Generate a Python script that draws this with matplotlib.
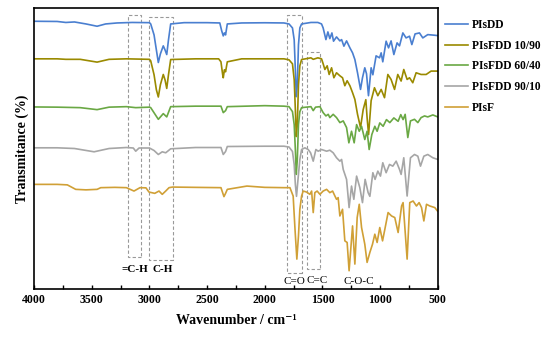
import matplotlib
matplotlib.use("Agg")
import matplotlib.pyplot as plt
from matplotlib.patches import Rectangle
from matplotlib.ticker import MultipleLocator

plt.rcParams['font.family'] = ['Liberation Serif', 'DejaVu Serif']

# FTIR spectra (wavenumber in cm-1, stacked transmittance in a.u.)
wn_pisdd = [4000, 3800, 3725, 3650, 3550, 3454, 3380, 3281, 3150, 3000, 2989, 2960, 2940, 2923, 2905,
            2880, 2865, 2850, 2835, 2816, 2700, 2500, 2390, 2374, 2360, 2350, 2340, 2325, 2200, 2000,
            1834, 1790, 1760, 1745, 1735, 1727, 1718, 1708, 1696, 1681, 1600, 1540, 1508, 1494, 1470,
            1453, 1436, 1418, 1404, 1378, 1349, 1334, 1314, 1291, 1262, 1239, 1219, 1196, 1170, 1153,
            1133, 1118, 1101, 1078, 1063, 1035, 1005, 991, 977, 948, 927, 905, 881, 853, 832, 803,
            775, 745, 725, 697, 659, 630, 587, 529, 500]
t_pisdd = [268.7, 268.5, 267.5, 268, 266, 263.7, 266, 267, 267.5, 267.3, 266, 255, 240, 227.3, 236,
           244, 240, 235.3, 250, 266, 267.3, 267.3, 267, 259.3, 254, 257, 255, 266, 267, 267.2,
           267, 266, 262, 250, 220, 193, 205, 245, 262, 266, 267.5, 267.5, 266, 262, 250.3,
           258, 251.3, 257, 248.7, 253, 249, 250.3, 243.7, 249, 242, 237, 230.3, 217, 200.3, 212,
           222, 216, 194, 222, 215, 234, 232, 237, 228, 248.7, 242, 249, 235.3, 247, 244, 257,
           252, 253.7, 245.3, 256, 257, 252, 255.3, 254.7, 254.3]

wn_1090 = [4000, 3800, 3725, 3600, 3454, 3350, 3200, 3000, 2989, 2960, 2940, 2923, 2905, 2880, 2865,
           2850, 2835, 2816, 2600, 2400, 2380, 2365, 2360, 2350, 2340, 2325, 2200, 1834, 1790, 1760,
           1745, 1735, 1727, 1718, 1708, 1696, 1681, 1600, 1580, 1540, 1508, 1494, 1479, 1459, 1442,
           1421, 1401, 1378, 1349, 1326, 1306, 1286, 1262, 1239, 1219, 1196, 1170, 1147, 1124, 1113,
           1100, 1078, 1049, 1020, 991, 962, 933, 905, 875, 847, 818, 795, 766, 745, 717, 688, 645,
           601, 558, 500]
t_1090 = [231, 231, 230.5, 230.5, 227.7, 230.5, 231, 230.5, 229, 215, 200, 192.7, 205, 215.3, 210,
          201.3, 215, 230.3, 231, 231, 228, 215, 212, 220, 218, 228, 231, 231, 230, 226,
          210, 180, 153, 165, 205, 224, 230.3, 232, 230.5, 232, 231, 226, 220.3, 224, 215.3,
          222, 212, 217, 214, 212, 204, 209, 204, 197, 190.3, 175.3, 162, 180, 190, 172,
          155, 189, 202, 194, 200.3, 192, 215.3, 210.3, 200.3, 215.3, 208.7, 220.3, 210.3, 212, 207, 217, 215.3,
          215.3, 218.7, 218.7]

wn_6040 = [4000, 3800, 3600, 3454, 3350, 3200, 3119, 3000, 2989, 2923, 2880, 2850, 2816, 2600, 2380,
           2360, 2340, 2325, 2000, 1834, 1790, 1760, 1745, 1735, 1727, 1718, 1708, 1696, 1681, 1600,
           1580, 1560, 1522, 1494, 1470, 1450, 1436, 1407, 1378, 1349, 1320, 1291, 1271, 1248, 1225,
           1204, 1181, 1161, 1133, 1113, 1095, 1072, 1046, 1026, 1003, 974, 945, 916, 881, 844,
           821, 801, 783, 760, 737, 702, 673, 645, 615, 587, 543, 500]
t_6040 = [182.7, 182.5, 182, 180, 182.5, 183, 182, 182.5, 182, 170.3, 176, 172.7, 183, 183.5, 183.5,
          177, 179, 183, 184, 183.5, 183, 178, 165, 140, 115, 130, 165, 178, 182, 183,
          179, 182.5, 183, 177, 173.7, 175.3, 172, 175.3, 172, 167, 168.7, 162, 146.7, 158.3, 146.7,
          165, 158.3, 163.3, 150, 158.3, 140, 155, 163.3, 158.3, 166.7, 163.3, 170, 167, 171.7, 168.3,
          175, 170, 175.3, 152, 168.7, 170.3, 167, 172, 173.7, 172.7, 174.7, 172.7]

wn_9010 = [4000, 3800, 3650, 3480, 3350, 3200, 3140, 3119, 3090, 3000, 2960, 2923, 2889, 2859, 2816,
           2600, 2380, 2360, 2340, 2325, 2000, 1834, 1790, 1760, 1745, 1735, 1725, 1712, 1696, 1681,
           1652, 1624, 1603, 1580, 1557, 1537, 1508, 1464, 1436, 1407, 1378, 1349, 1334, 1320, 1291,
           1269, 1248, 1228, 1204, 1176, 1153, 1130, 1104, 1089, 1063, 1044, 1020, 997, 977, 948,
           919, 890, 861, 832, 818, 795, 766, 737, 702, 673, 650, 621, 587, 543, 500]
t_9010 = [141.7, 141.7, 141, 137.7, 141, 142, 141.5, 138.3, 141.5, 141.5, 139, 135, 137.7, 136.7, 140.7,
          142, 142, 135, 138, 143, 143.3, 143.3, 142.5, 138, 125, 105, 93, 110, 130, 140,
          141.7, 140, 136.7, 128.3, 140, 138.3, 140, 138.3, 139.3, 136.7, 131.7, 128.3, 130, 120, 110,
          81.7, 103.3, 90, 113.3, 101.7, 86.7, 110, 96.7, 93, 116.7, 110, 118.3, 113.3, 126.7, 116.7,
          125, 123.3, 128.3, 120, 115, 131.7, 93.3, 131.7, 135, 133.3, 123.3, 133.3, 135, 131.7, 130]

wn_pisf = [4000, 3800, 3712, 3639, 3550, 3454, 3422, 3300, 3200, 3134, 3082, 3030, 3004, 2954, 2917,
           2889, 2859, 2830, 2800, 2600, 2380, 2354, 2340, 2325, 2155, 2000, 1834, 1782, 1754, 1738,
           1722, 1708, 1696, 1681, 1667, 1638, 1609, 1594, 1580, 1566, 1546, 1522, 1494, 1464, 1436,
           1412, 1392, 1378, 1364, 1349, 1326, 1306, 1286, 1269, 1239, 1219, 1199, 1181, 1161, 1133,
           1113, 1089, 1066, 1046, 1026, 1003, 979, 959, 931, 901, 873, 844, 814, 801, 766, 743,
           714, 685, 662, 641, 621, 598, 569, 526, 503, 500]
t_pisf = [105, 105, 104.5, 100, 99.5, 100, 101.7, 102, 101.7, 98.3, 101.7, 101.5, 97.3, 96, 98.3,
          95, 98.3, 101.7, 102.3, 102, 101.7, 92.7, 96, 100, 103.3, 102, 101.7, 101.7, 93.3, 60,
          30, 53.3, 80, 93.3, 98.3, 97.3, 95, 98.3, 76.7, 96.7, 98.3, 95, 98.3, 100, 96.7,
          98.3, 93.3, 90, 91.7, 73.3, 80, 48.3, 46.7, 18.3, 63.3, 25, 71.7, 85, 61.7, 45,
          26.7, 36.7, 45, 55, 46.7, 61.7, 48.3, 60, 76.7, 73.3, 71.7, 56.7, 83.3, 86.7, 30, 86.7,
          88.3, 83.3, 86.7, 81.7, 68.3, 85, 83.3, 81.7, 78.3, 78]

labels = ['PIsDD', 'PIsFDD 10/90', 'PIsFDD 60/40', 'PIsFDD 90/10', 'PIsF']
colors = ['#4a7fd0', '#9a8a00', '#6aa844', '#a6a6a6', '#d0a036']

# band regions (wavenumber range, box top, box bottom, label)
bands = [(3190, 3070, 275, 32, '=C-H'), (3000, 2800, 273, 29, 'C-H'),
         (1810, 1680, 275, 16, 'C=O'), (1630, 1520, 238, 20, 'C=C')]

fig = plt.figure(figsize=(5.5, 3.41), dpi=100)
ax = fig.add_axes([0.062, 0.1525, 0.734, 0.824])

for w, t, lab, c in zip([wn_pisdd, wn_1090, wn_6040, wn_9010, wn_pisf],
                        [t_pisdd, t_1090, t_6040, t_9010, t_pisf], labels, colors):
    ax.plot(w, t, color=c, lw=1.2, label=lab)

for hi, lo, top, bot, txt in bands:
    ax.add_patch(Rectangle((lo, bot), hi - lo, top - bot, fill=False, ec='#999999',
                           lw=0.8, ls=(0, (3, 2))))

ax.text(3130, 20, '=C-H', ha='center', va='center', fontsize=8, fontweight='bold')
ax.text(2885, 20, 'C-H', ha='center', va='center', fontsize=8, fontweight='bold')
ax.text(1745, 8, 'C=O', ha='center', va='center', fontsize=8)
ax.text(1545, 9, 'C=C', ha='center', va='center', fontsize=8)
ax.text(1185, 8, 'C-O-C', ha='center', va='center', fontsize=8)

ax.set_xlim(4000, 500)
ax.set_ylim(0, 282)
ax.xaxis.set_major_locator(MultipleLocator(500))
ax.xaxis.set_minor_locator(MultipleLocator(250))
ax.tick_params(axis='x', which='both', direction='in', length=3, width=1, labelsize=8.5)
ax.tick_params(axis='y', left=False, labelleft=False)
for lbl in ax.get_xticklabels():
    lbl.set_fontweight('bold')
for s in ax.spines.values():
    s.set_linewidth(1.2)

ax.set_xlabel('Wavenumber / cm\u207b\u00b9', fontsize=10, fontweight='bold', labelpad=6)
ax.set_ylabel('Transmitance (%)', fontsize=10, fontweight='bold', labelpad=4)

leg = ax.legend(loc='upper left', bbox_to_anchor=(1.0, 0.985), frameon=False, fontsize=8.3,
                handlelength=2.0, labelspacing=0.75, handletextpad=0.35, borderaxespad=0.2)
for t in leg.get_texts():
    t.set_fontweight('bold')

fig.savefig('out.png', dpi=100)
